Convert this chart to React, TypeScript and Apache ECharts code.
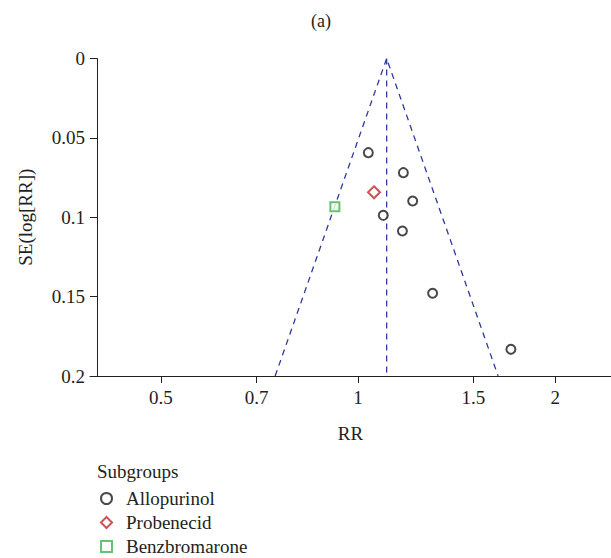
import React, { useEffect, useRef } from "react";
import * as echarts from "echarts";

const xTicks = [0.5, 0.7, 1, 1.5, 2];
const yTicks = [0, 0.05, 0.1, 0.15, 0.2];
const pooledRR = 1.106;
const zValue = 1.96;
const seMax = 0.2;

const allopurinolRR = [1.037, 1.173, 1.212, 1.093, 1.169, 1.3, 1.712];
const allopurinolSE = [0.0593, 0.0719, 0.0898, 0.0988, 0.1087, 0.1479, 0.1832];
const probenecidRR = [1.058];
const probenecidSE = [0.0843];
const benzbromaroneRR = [0.922];
const benzbromaroneSE = [0.0934];

const FONT = "Liberation Serif";
const TXT = "#231f20";
const BLUE = "#2e3a9c";

export default function App() {
  const ref = useRef<HTMLDivElement>(null);
  useEffect(() => {
    if (!ref.current) return;
    const chart = echarts.init(ref.current, null, { renderer: "svg" });
    const lp = Math.log(pooledRR);
    const toPts = (rr: number[], se: number[]) => rr.map((r, i) => [Math.log(r), se[i]]);
    const txt = { fontFamily: FONT, fontSize: 19, color: TXT };
    chart.setOption({
      animation: false,
      textStyle: { fontFamily: FONT, color: TXT, fontSize: 19 },
      grid: { left: 90, right: 0, top: 58.5, bottom: 182 },
      xAxis: {
        type: "value",
        min: -0.9423,
        max: 0.8896,
        name: "RR",
        nameLocation: "middle",
        nameGap: 48,
        nameTextStyle: txt,
        axisLine: { onZero: false, lineStyle: { color: TXT, width: 1 } },
        axisTick: { length: 7, lineStyle: { color: TXT }, customValues: xTicks.map(Math.log) },
        axisLabel: {
          ...txt,
          customValues: xTicks.map(Math.log),
          margin: 12,
          formatter: (v: number) => {
            let best = xTicks[0];
            xTicks.forEach((t) => {
              if (Math.abs(Math.log(t) - v) < Math.abs(Math.log(best) - v)) best = t;
            });
            return String(best);
          },
        },
        splitLine: { show: false },
      },
      yAxis: {
        type: "value",
        inverse: true,
        min: 0,
        max: 0.2,
        interval: 0.05,
        offset: -7,
        name: "SE(log[RR])",
        nameLocation: "middle",
        nameGap: 62,
        nameTextStyle: txt,
        axisLine: { show: true, onZero: false, lineStyle: { color: TXT, width: 1 } },
        axisTick: { show: true, length: 7, lineStyle: { color: TXT } },
        axisLabel: {
          ...txt,
          margin: 12,
          formatter: (v: number) => {
            let best = yTicks[0];
            yTicks.forEach((t) => {
              if (Math.abs(t - v) < Math.abs(best - v)) best = t;
            });
            return String(best);
          },
        },
        splitLine: { show: false },
      },
      title: {
        text: "(a)",
        left: 316,
        top: 7,
        textAlign: "center",
        textStyle: { fontFamily: FONT, fontSize: 18, fontWeight: "normal", color: TXT },
      },
      graphic: [
        {
          type: "text",
          left: 97,
          top: 462,
          style: { text: "Subgroups", font: `19px "${FONT}"`, fill: TXT },
        },
      ],
      legend: {
        data: ["Allopurinol", "Probenecid", "Benzbromarone"],
        orient: "vertical",
        left: 100,
        top: 489,
        height: 100,
        padding: 0,
        itemWidth: 11,
        itemHeight: 11,
        itemGap: 5,
        textStyle: { ...txt, lineHeight: 18, padding: [0, 0, 0, 9] },
      },
      series: [
        {
          name: "funnel",
          type: "line",
          data: [
            [lp - zValue * seMax, seMax],
            [lp, 0],
            [lp + zValue * seMax, seMax],
          ],
          symbol: "none",
          lineStyle: { color: BLUE, width: 1.3, type: [6, 5] },
          silent: true,
          z: 1,
        },
        {
          name: "pooled",
          type: "line",
          data: [
            [lp, 0],
            [lp, seMax],
          ],
          symbol: "none",
          lineStyle: { color: BLUE, width: 1.3, type: [6, 5] },
          silent: true,
          z: 1,
        },
        {
          name: "Allopurinol",
          type: "scatter",
          symbol: "emptyCircle",
          symbolSize: 9,
          itemStyle: { color: "#1a1a1a", borderWidth: 1.4 },
          data: toPts(allopurinolRR, allopurinolSE),
          z: 3,
        },
        {
          name: "Probenecid",
          type: "scatter",
          symbol: "emptyDiamond",
          symbolSize: 12,
          itemStyle: { color: "#c1272d", borderWidth: 1.4 },
          data: toPts(probenecidRR, probenecidSE),
          z: 3,
        },
        {
          name: "Benzbromarone",
          type: "scatter",
          symbol: "emptyRect",
          symbolSize: 9,
          itemStyle: { color: "#3cb44b", borderWidth: 1.4 },
          data: toPts(benzbromaroneRR, benzbromaroneSE),
          z: 3,
        },
      ],
    });
    return () => chart.dispose();
  }, []);
  return (
    <div
      ref={ref}
      style={{ position: "fixed", left: 0, top: 0, width: 611, height: 558, background: "#fff" }}
    />
  );
}
